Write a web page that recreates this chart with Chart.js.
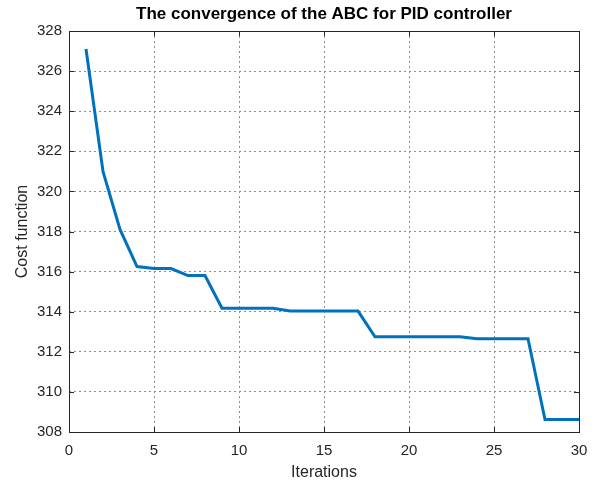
<!DOCTYPE html>
<html><head><meta charset="utf-8">
<script src="https://cdn.jsdelivr.net/npm/chart.js@4/dist/chart.umd.min.js"></script>
<style>html,body{margin:0;padding:0;background:#fff}#wrap{width:593px;height:485px}</style>
</head><body><div id="wrap"><canvas id="c" width="593" height="485"></canvas></div>
<script>
const iterations = [1,2,3,4,5,6,7,8,9,10,11,12,13,14,15,16,17,18,19,20,21,22,23,24,25,26,27,28,29,30];
const costValues = [327.1,321.0,318.1,316.25,316.15,316.15,315.8,315.8,314.17,314.17,314.17,314.17,314.03,314.03,314.03,314.03,314.03,312.75,312.75,312.75,312.75,312.75,312.75,312.65,312.65,312.65,312.65,308.62,308.62,308.62];
const xTicks = [0,5,10,15,20,25,30];
const yTicks = [308,310,312,314,316,318,320,322,324,326,328];
const titleText = 'The convergence of the ABC for PID controller';
const xLabel = 'Iterations';
const yLabel = 'Cost function';

const FONT = "'Liberation Sans', Arial, sans-serif";
const boxPlugin = {
  id: 'box',
  afterDatasetsDraw(chart) {
    const {ctx, chartArea: a, scales} = chart;
    ctx.save();
    ctx.strokeStyle = '#262626';
    ctx.lineWidth = 1;
    ctx.setLineDash([]);
    ctx.beginPath();
    xTicks.forEach(v => {
      const px = Math.round(scales.x.getPixelForValue(v)) + 0.5;
      ctx.moveTo(px, a.bottom); ctx.lineTo(px, a.bottom - 5);
      ctx.moveTo(px, a.top); ctx.lineTo(px, a.top + 5);
    });
    yTicks.forEach(v => {
      const py = Math.round(scales.y.getPixelForValue(v)) + 0.5;
      ctx.moveTo(a.left, py); ctx.lineTo(a.left + 5, py);
      ctx.moveTo(a.right, py); ctx.lineTo(a.right - 5, py);
    });
    ctx.stroke();
    ctx.strokeRect(Math.round(a.left)+0.5, Math.round(a.top)+0.5, Math.round(a.right-a.left), Math.round(a.bottom-a.top));
    ctx.restore();
  }
};

new Chart(document.getElementById('c'), {
  type: 'line',
  data: {
    datasets: [{
      data: iterations.map((x, i) => ({x, y: costValues[i]})),
      borderColor: '#0072BD',
      borderWidth: 3,
      pointRadius: 0,
      tension: 0,
      fill: false
    }]
  },
  options: {
    responsive: false,
    animation: false,
    layout: { padding: { left: 0, right: 14, top: 0, bottom: 0 } },
    plugins: {
      legend: { display: false },
      tooltip: { enabled: false },
      title: {
        display: true, text: titleText, fullSize: false,
        color: '#000',
        font: { family: FONT, size: 17, weight: 'bold', lineHeight: 1.2 },
        padding: { top: 4, bottom: 6.6 }
      }
    },
    scales: {
      x: {
        type: 'linear', min: 0, max: 30,
        afterBuildTicks: s => { s.ticks = xTicks.map(v => ({value: v})); },
        afterFit: s => { s.height = 53; s.paddingLeft = 0; s.paddingRight = 0; },
        ticks: { color: '#262626', font: { family: FONT, size: 15 }, padding: 10, maxRotation: 0 },
        grid: { color: '#8c8c8c', drawTicks: false, lineWidth: 1 },
        border: { display: false, dash: [2, 3] },
        title: { display: true, text: xLabel, color: '#262626', font: { family: FONT, size: 16 }, padding: { top: 0, bottom: 3 } }
      },
      y: {
        type: 'linear', min: 308, max: 328,
        afterBuildTicks: s => { s.ticks = yTicks.map(v => ({value: v})); },
        afterFit: s => { s.width = 69; s.paddingTop = 0; s.paddingBottom = 0; },
        ticks: { color: '#262626', font: { family: FONT, size: 15 }, padding: 7 },
        grid: { color: '#8c8c8c', drawTicks: false, lineWidth: 1 },
        border: { display: false, dash: [2, 3] },
        title: { display: true, text: yLabel, color: '#262626', font: { family: FONT, size: 16 }, padding: { top: 13, bottom: 0 } }
      }
    }
  },
  plugins: [boxPlugin]
});
</script></body></html>
